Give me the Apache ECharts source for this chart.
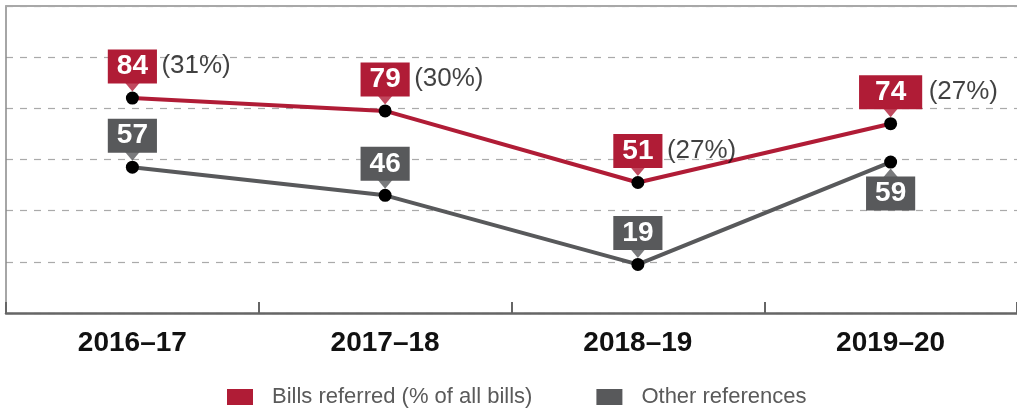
<!DOCTYPE html>
<html>
<head>
<meta charset="utf-8">
<script src="https://cdn.jsdelivr.net/npm/echarts@6/dist/echarts.min.js"></script>
<style>
  html, body { margin: 0; padding: 0; background: #fff; }
  #chart { width: 1017px; height: 409px; }
</style>
</head>
<body>
<div id="chart"></div>
<script>
// Financial years shown along the bottom
const categories = ['2016\u201317', '2017\u201318', '2018\u201319', '2019\u201320'];
// Bills referred to committees, and their share of all bills
const billsReferred = [84, 79, 51, 74];
const billsShare = ['(31%)', '(30%)', '(27%)', '(27%)'];
// Other references made to committees
const otherReferences = [57, 46, 19, 59];
// Value axis ticks
const yTicks = [0, 20, 40, 60, 80, 100, 120];

const RED = '#b01c36';
const GREY = '#58595b';
const FONT = '"Liberation Sans", Arial, sans-serif';

const downArrow = 'path://M0,0 L10,0 L5,6 Z';
const upArrow = 'path://M5,0 L10,6 L0,6 Z';

// Which side of the point each grey callout sits on
const otherBelow = [false, false, false, true];

function boxLabel(color, pad) {
  return {
    show: true,
    position: 'top',
    distance: 8,
    backgroundColor: color,
    color: '#fff',
    fontFamily: FONT,
    fontWeight: 'bold',
    fontSize: 28,
    lineHeight: 28,
    padding: pad || [3, 9, 3, 9]
  };
}

const chart = echarts.init(document.getElementById('chart'));

chart.setOption({
  animation: false,
  backgroundColor: '#fff',
  grid: { left: 6, right: -5, top: 6, bottom: 96, containLabel: false },
  legend: {
    left: 227,
    top: 386,
    padding: 0,
    itemWidth: 26,
    itemHeight: 16,
    itemGap: 64,
    data: [
      { name: 'Bills referred (% of all bills)', icon: 'rect', itemStyle: { color: RED } },
      { name: 'Other references', icon: 'rect', itemStyle: { color: GREY } }
    ],
    textStyle: {
      fontFamily: FONT,
      fontSize: 22,
      color: '#5a5a5a',
      padding: [0, 0, 0, 14]
    }
  },
  xAxis: [
    {
      type: 'category',
      data: categories,
      boundaryGap: true,
      axisLine: { show: true, lineStyle: { color: '#666', width: 2.5 } },
      axisTick: { show: true, inside: true, length: 11, lineStyle: { color: '#666', width: 2 } },
      axisLabel: {
        margin: 16,
        fontFamily: FONT,
        fontWeight: 'bold',
        fontSize: 28,
        color: '#111'
      },
      splitLine: { show: false }
    },
    {
      type: 'category',
      data: categories,
      position: 'top',
      axisLine: { show: true, lineStyle: { color: '#a8a8a8', width: 2 } },
      axisTick: { show: false },
      axisLabel: { show: false },
      splitLine: { show: false }
    }
  ],
  yAxis: {
    type: 'value',
    min: yTicks[0],
    max: yTicks[yTicks.length - 1],
    interval: yTicks[1] - yTicks[0],
    axisLine: { show: true, lineStyle: { color: '#888', width: 1.5 } },
    axisTick: { show: false },
    axisLabel: { show: false },
    splitLine: { show: true, lineStyle: { color: '#aaa', type: [7, 7], width: 1.2 } }
  },
  series: [
    {
      name: 'Bills referred (% of all bills)',
      type: 'line',
      z: 3,
      color: RED,
      data: billsReferred.map((v, i) => ({
        value: v,
        label: i === 3 ? boxLabel(RED, [3, 16, 3, 16]) : boxLabel(RED)
      })),
      lineStyle: { color: RED, width: 4 },
      symbol: 'circle',
      symbolSize: 13,
      itemStyle: { color: '#000' },
      label: boxLabel(RED)
    },
    {
      name: 'Other references',
      type: 'line',
      z: 3,
      color: GREY,
      data: otherReferences.map((v, i) => ({
        value: v,
        label: Object.assign(boxLabel(GREY), { position: otherBelow[i] ? 'bottom' : 'top' })
      })),
      lineStyle: { color: GREY, width: 4 },
      symbol: 'circle',
      symbolSize: 13,
      itemStyle: { color: '#000' },
      label: boxLabel(GREY)
    },
    // Callout pointers under the red boxes
    {
      type: 'scatter',
      z: 4,
      silent: true,
      data: billsReferred.map(v => ({ value: v })),
      symbol: downArrow,
      symbolSize: [15, 9],
      symbolOffset: [0, -11],
      itemStyle: { color: RED }
    },
    // Callout pointers for the grey boxes
    {
      type: 'scatter',
      z: 4,
      silent: true,
      data: otherReferences.map((v, i) => ({
        value: v,
        symbol: otherBelow[i] ? upArrow : downArrow,
        symbolOffset: [0, otherBelow[i] ? 11 : -11]
      })),
      symbolSize: [15, 9],
      itemStyle: { color: GREY }
    },
    // Share of all bills, printed beside the red boxes
    {
      type: 'scatter',
      z: 5,
      silent: true,
      symbolSize: 0,
      data: billsReferred.map((v, i) => ({
        value: v,
        label: { offset: [i === 3 ? 38 : 29, -32] }
      })),
      label: {
        show: true,
        position: 'inside',
        align: 'left',
        verticalAlign: 'middle',
        fontFamily: FONT,
        fontSize: 26,
        color: '#111',
        formatter: p => billsShare[p.dataIndex]
      }
    }
  ]
});
</script>
</body>
</html>
